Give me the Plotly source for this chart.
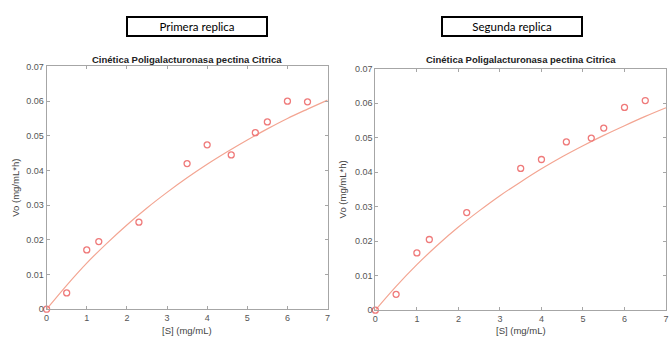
import plotly.graph_objects as go

# Data
s_points = [0, 0.5, 1.0, 1.3, 2.3, 3.5, 4.0, 4.6, 5.2, 5.5, 6.0, 6.5]
vo_rep1 = [0, 0.0047, 0.0171, 0.0195, 0.0251, 0.0420, 0.0474, 0.0445, 0.0509, 0.0540, 0.0600, 0.0598]

s_points2 = [0, 0.5, 1.0, 1.3, 2.2, 3.5, 4.0, 4.6, 5.2, 5.5, 6.0, 6.5]
vo_rep2 = [0, 0.0046, 0.0166, 0.0205, 0.0283, 0.0411, 0.0437, 0.0488, 0.0499, 0.0528, 0.0588, 0.0608]

s_fit = [0, 0.5, 1.0, 1.5, 2.0, 2.5, 3.0, 3.5, 4.0, 4.5, 5.0, 5.5, 6.0, 6.5, 7.0]
fit_rep1 = [0, 0.0069, 0.0133, 0.0190, 0.0243, 0.0292, 0.0337, 0.0379, 0.0418, 0.0454, 0.0488, 0.0520, 0.0550, 0.0577, 0.0603]
fit_rep2 = [0, 0.0069, 0.0132, 0.0189, 0.0241, 0.0288, 0.0332, 0.0372, 0.0410, 0.0445, 0.0477, 0.0507, 0.0535, 0.0562, 0.0587]

x_ticks = [0, 1, 2, 3, 4, 5, 6, 7]
y_ticks = [0, 0.01, 0.02, 0.03, 0.04, 0.05, 0.06, 0.07]
y_tick_text = ["0", "0.01", "0.02", "0.03", "0.04", "0.05", "0.06", "0.07"]

panel_titles = ["Primera replica", "Segunda replica"]
chart_title = "Cinética Poligalacturonasa pectina Citrica"
x_label = "[S] (mg/mL)"
y_label = "Vo (mg/mL*h)"

W, H = 672, 345
marker_color = "#ef7a7a"
line_color = "#f3a592"
axis_color = "#a6a6a6"
ARIAL = "Liberation Sans"
tick_font = dict(family=ARIAL, size=9, color="#555555")

fig = go.Figure()

panels = [
    dict(x=s_points, y=vo_rep1, fx=s_fit, fy=fit_rep1, xa="x", ya="y", hx=196,
         xd=[44 / W, 327.5 / W], yd=[(H - 313.3) / H, (H - 63.3) / H]),
    dict(x=s_points2, y=vo_rep2, fx=s_fit, fy=fit_rep2, xa="x2", ya="y2", hx=513.5,
         xd=[375.7 / W, 669 / W], yd=[(H - 314.3) / H, (H - 65.7) / H]),
]

for i, p in enumerate(panels):
    fig.add_trace(go.Scatter(x=p["fx"], y=p["fy"], mode="lines", line=dict(color=line_color, width=1.2, shape="spline"),
                             xaxis=p["xa"], yaxis=p["ya"], showlegend=False, hoverinfo="skip"))
    fig.add_trace(go.Scatter(x=p["x"], y=p["y"], mode="markers", cliponaxis=False,
                             marker=dict(symbol="circle-open", size=6, color=marker_color, line=dict(width=1.3, color=marker_color)),
                             xaxis=p["xa"], yaxis=p["ya"], showlegend=False))
    sfx = "" if i == 0 else "2"
    fig.update_layout(**{
        "xaxis" + sfx: dict(domain=p["xd"], range=[0, 7], tickvals=x_ticks, ticks="inside", ticklen=3,
                            tickcolor=axis_color, showline=True, linecolor=axis_color, linewidth=1, mirror="ticks",
                            showgrid=False, zeroline=False, tickfont=tick_font, anchor="y" + sfx),
        "yaxis" + sfx: dict(domain=p["yd"], range=[0, 0.07], tickvals=y_ticks, ticktext=y_tick_text, ticks="inside",
                            ticklen=3, tickcolor=axis_color, showline=True, linecolor=axis_color, linewidth=1,
                            mirror="ticks", showgrid=False, zeroline=False, tickfont=tick_font, anchor="x" + sfx),
    })
    cx = (p["xd"][0] + p["xd"][1]) / 2
    # panel heading box
    fig.add_annotation(x=p["hx"] / W, y=(H - 22.5) / H, xref="paper", yref="paper", xanchor="center", yanchor="middle",
                       text=panel_titles[i], showarrow=False,
                       font=dict(family="Lato", size=11.5, color="#000000"),
                       bordercolor="#000000", borderwidth=2, borderpad=1, width=136, height=15, bgcolor="white")
    # chart title
    fig.add_annotation(x=cx, y=(H - 56.5) / H, xref="paper", yref="paper", xanchor="center", yanchor="middle",
                       text="<b>" + chart_title + "</b>", showarrow=False,
                       font=dict(family=ARIAL, size=9.5, color="#222222"))
    # x label
    fig.add_annotation(x=cx, y=(H - 335.5) / H, xref="paper", yref="paper", xanchor="center", yanchor="middle",
                       text=x_label, showarrow=False, font=dict(family=ARIAL, size=9.5, color="#444444"))
    # y label
    ylx = 13 if i == 0 else 343
    fig.add_annotation(x=ylx / W, y=(p["yd"][0] + p["yd"][1]) / 2, xref="paper", yref="paper",
                       xanchor="center", yanchor="middle", text=y_label,
                       textangle=-90, showarrow=False,
                       font=dict(family=ARIAL, size=9.5, color="#444444"))

fig.update_layout(width=W, height=H, margin=dict(l=0, r=0, t=0, b=0), paper_bgcolor="white",
                  plot_bgcolor="white", autosize=False, font=dict(family=ARIAL))

fig.write_html("out.html")
